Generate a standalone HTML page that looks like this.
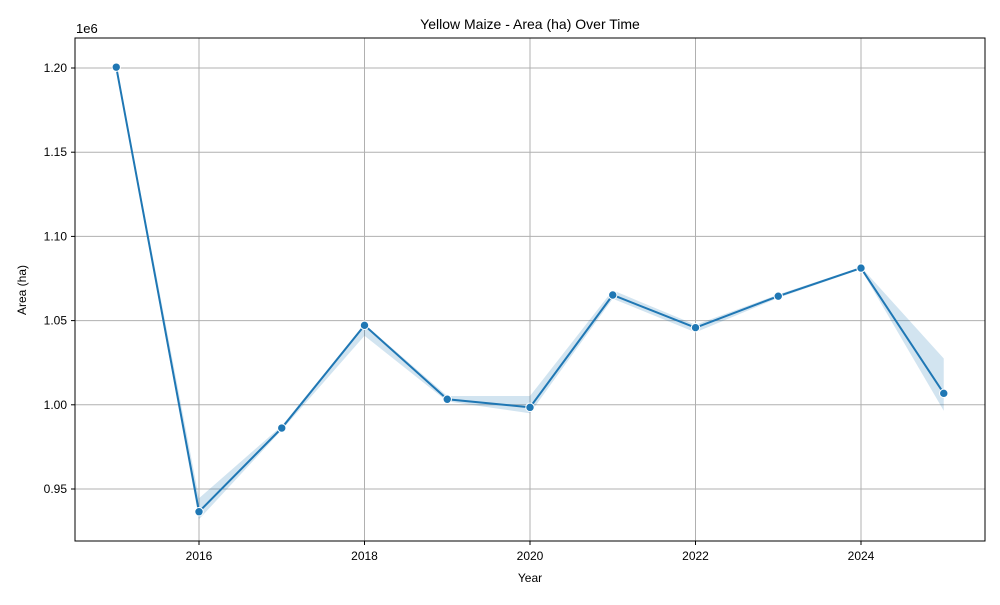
<!DOCTYPE html>
<html><head><meta charset="utf-8"><style>
body{margin:0;background:#fff;font-family:"Liberation Sans","DejaVu Sans",sans-serif}
svg text{font-family:"Liberation Sans","DejaVu Sans",sans-serif;fill:#000}
</style></head><body>
<svg id="chart" width="1000" height="600">
<rect width="1000" height="600" fill="#fff"/>
<g id="grid"></g>
<g id="band"></g>
<g id="line"></g>
<rect x="75" y="38" width="910" height="503" fill="none" stroke="#000" stroke-width="1"/>
<g id="axes"></g>
<text x="530" y="29" font-size="14" text-anchor="middle">Yellow Maize - Area (ha) Over Time</text>
<text x="530" y="582" font-size="12" text-anchor="middle">Year</text>
<text x="26" y="290" font-size="12" text-anchor="middle" transform="rotate(-90 26 290)">Area (ha)</text>
<text x="76" y="33" font-size="13">1e6</text>
</svg>
<script>
const years=[2015,2016,2017,2018,2019,2020,2021,2022,2023,2024,2025];
const means=[1.2005,0.9365,0.9862,1.0472,1.0033,0.9985,1.0652,1.0458,1.0645,1.0812,1.0068];
const upper=[1.2015,0.9445,0.9875,1.0480,1.0052,1.0052,1.0680,1.0475,1.0655,1.0818,1.0275];
const lower=[1.1995,0.9320,0.9850,1.0410,1.0020,0.9950,1.0630,1.0430,1.0635,1.0805,0.9965];
const xTicks=[2016,2018,2020,2022,2024];
const yTicks=[0.95,1.00,1.05,1.10,1.15,1.20];
const yTickLabels=["0.95","1.00","1.05","1.10","1.15","1.20"];
const NS="http://www.w3.org/2000/svg";
const X=v=>199+(v-2016)*82.75;
const Y=v=>489-(v-0.95)/0.05*84.2;
function mk(p,t,a){const e=document.createElementNS(NS,t);for(const k in a)e.setAttribute(k,a[k]);p.appendChild(e);return e;}
const grid=document.getElementById('grid'),axes=document.getElementById('axes');
xTicks.forEach(t=>{
 const l=mk(grid,'line',{x1:X(t),x2:X(t),y1:38,y2:541,stroke:'#b0b0b0','stroke-width':1});
 
 
 const k=mk(axes,'line',{x1:X(t),x2:X(t),y1:541,y2:545,stroke:'#000'});
 
 
 const tx=mk(axes,'text',{x:X(t),y:560,'font-size':12,'text-anchor':'middle'});tx.textContent=t;
 
 
});
yTicks.forEach((t,i)=>{
 const l=mk(grid,'line',{x1:75,x2:985,y1:Y(t),y2:Y(t),stroke:'#b0b0b0','stroke-width':1});
 
 
 const k=mk(axes,'line',{x1:71,x2:75,y1:Y(t),y2:Y(t),stroke:'#000'});
 
 
 const tx=mk(axes,'text',{x:67,y:Y(t)+4,'font-size':12,'text-anchor':'end'});tx.textContent=yTickLabels[i];
 
 
});
let d=years.map((y,i)=>(i?'L':'M')+X(y)+','+Y(upper[i])).join('');
for(let i=years.length-1;i>=0;i--)d+='L'+X(years[i])+','+Y(lower[i]);
const band=mk(document.getElementById('band'),'path',{d:d+'Z',fill:'#1f77b4','fill-opacity':0.2,stroke:'none'});


const lg=document.getElementById('line');
const pl=mk(lg,'polyline',{points:years.map((y,i)=>X(y)+','+Y(means[i])).join(' '),fill:'none',stroke:'#1f77b4','stroke-width':2});


years.forEach((y,i)=>{
 const c=mk(lg,'circle',{cx:X(y),cy:Y(means[i]),r:4.2,fill:'#1f77b4',stroke:'#fff','stroke-width':1});
 
 
});
</script>
</body></html>
